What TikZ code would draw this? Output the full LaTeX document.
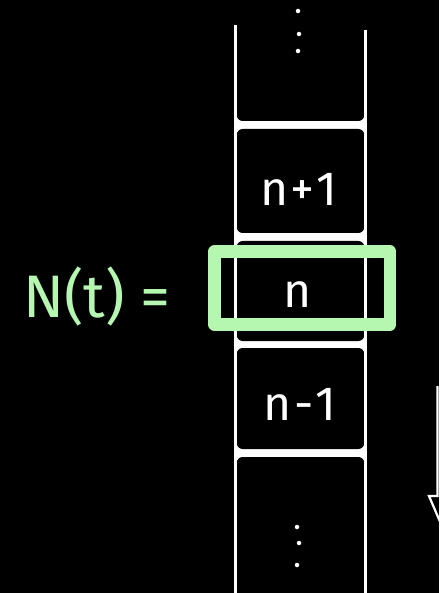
\documentclass[tikz,border=0pt]{standalone}
\usepackage{fontspec}
\setmainfont{Fira Sans}
\definecolor{mint}{HTML}{B5F7B0}
\begin{document}
\begin{tikzpicture}[x=1pt,y=-1pt,
  cell/.style={fill=black,rounded corners=6pt},
  wline/.style={white,line width=2.8pt},
  celltext/.style={text=white,font=\fontsize{48}{48}\selectfont\addfontfeature{Weight=Light}},
  dotmark/.style={fill=white,circle,inner sep=0pt,minimum size=4.5pt}]
\fill[black] (0,0) rectangle (439,593);
\useasboundingbox (0,0) rectangle (439,593);
% white strip that forms the bars
\fill[white] (233.9,110) rectangle (367.1,470);
% black cells
\fill[cell] (236.7,-20) rectangle (364.3,121);
\fill[cell] (236.7,129) rectangle (364.3,233);
\fill[cell] (236.7,241) rectangle (364.3,341);
\fill[cell] (236.7,348) rectangle (364.3,449);
\fill[cell] (236.7,457) rectangle (364.3,620);
% vertical rails
\coordinate (lt) at (235.3,25);
\coordinate (lb) at (235.3,593);
\coordinate (rt) at (365.7,30);
\coordinate (rb) at (365.7,593);
\draw[wline] (lt) -- (lb);
\draw[wline] (rt) -- (rb);
% dots
\node[dotmark] (d1) at (298,11) {};
\node[dotmark] (d2) at (299,34) {};
\node[dotmark] (d3) at (298,51) {};
\node[dotmark] (d4) at (297,527) {};
\node[dotmark] (d5) at (299,543) {};
\node[dotmark] (d6) at (297,565) {};
% cell labels
\node[celltext] (np1) at (299,189) {n\kern2pt+\kern2pt1};
\node[celltext] (n) at (298,295) {n};
\node[celltext] (nm1) at (300,404) {n\kern3pt-\kern2pt1};
% green highlight
\draw[mint,line width=12.5pt,line join=round] (214.5,251.5) rectangle (390,324.5);
\node[text=mint,font=\fontsize{60}{60}\selectfont\addfontfeature{Weight=Light},anchor=west] (Nt) at (20,296) {N(t) =};
% partial hollow arrow at right edge
\coordinate (a1) at (437.5,386);
\coordinate (a2) at (437.5,496);
\coordinate (a3) at (429,496);
\coordinate (a4) at (450,545);
\draw[white,line width=2.2pt,line join=miter] (a1) -- (a2) -- (a3) -- (a4);
\end{tikzpicture}
\end{document}
